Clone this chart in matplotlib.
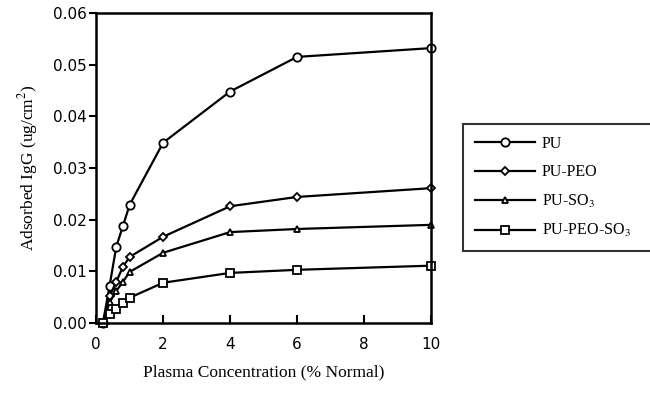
import matplotlib
matplotlib.use('agg')
import matplotlib.pyplot as plt

plt.rcParams['mathtext.fontset'] = 'stix'

conc = [0.2, 0.4, 0.6, 0.8, 1.0, 2, 4, 6, 10]
pu = [0.0, 0.0072, 0.0148, 0.0188, 0.0229, 0.0349, 0.0448, 0.0515, 0.0532]
pu_peo = [0.0, 0.0052, 0.0080, 0.0109, 0.0128, 0.0167, 0.0226, 0.0244, 0.0261]
pu_so3 = [0.0, 0.0040, 0.0062, 0.0080, 0.0099, 0.0136, 0.0176, 0.0182, 0.0190]
pu_peo_so3 = [0.0, 0.0018, 0.0028, 0.0038, 0.0049, 0.0078, 0.0097, 0.0103, 0.0111]

names = ['PU', 'PU-PEO', 'PU-SO$_3$', 'PU-PEO-SO$_3$']
markers = ['o', 'D', '^', 's']
sizes = [6, 4.5, 5, 6]

serif = 'Liberation Serif'
sans = 'DejaVu Sans'

fig = plt.figure(figsize=(6.5, 3.93), dpi=100)
ax = fig.add_axes([0.148, 0.178, 0.515, 0.789])

for ys, name, m, s in zip([pu, pu_peo, pu_so3, pu_peo_so3], names, markers, sizes):
    ax.plot(conc, ys, color='black', lw=1.6, marker=m, ms=s,
            mfc='white', mec='black', mew=1.3, label=name, clip_on=False)

ax.set_xlim(0, 10)
ax.set_ylim(0, 0.06)
ax.set_xticks([0, 2, 4, 6, 8, 10])
ax.set_yticks([0, 0.01, 0.02, 0.03, 0.04, 0.05, 0.06])
ax.set_yticklabels(['0.00', '0.01', '0.02', '0.03', '0.04', '0.05', '0.06'])
ax.tick_params(axis='x', direction='in', length=6, width=1.5, pad=10)
ax.tick_params(axis='y', direction='out', length=5, width=1.5, pad=2)
for lab in ax.get_xticklabels() + ax.get_yticklabels():
    lab.set_fontfamily(sans)
    lab.set_fontsize(11)
for sp in ax.spines.values():
    sp.set_linewidth(1.8)

ax.set_xlabel('Plasma Concentration (% Normal)', fontfamily=serif, fontsize=12.5, labelpad=9)
ax.set_ylabel('Adsorbed IgG (ug/cm$^2$)', fontfamily=serif, fontsize=12.5, labelpad=9)

leg = ax.legend(loc='upper left', bbox_to_anchor=(0.712, 0.369, 0.36, 0.316),
                bbox_transform=fig.transFigure, mode='expand',
                prop={'family': serif, 'size': 11.5}, handlelength=3.8,
                handletextpad=0.4, labelspacing=0.78, borderpad=0.75,
                fancybox=False, frameon=True, borderaxespad=0)
leg.get_frame().set_edgecolor('black')
leg.get_frame().set_linewidth(1.5)

fig.savefig('out.png', dpi=100)
